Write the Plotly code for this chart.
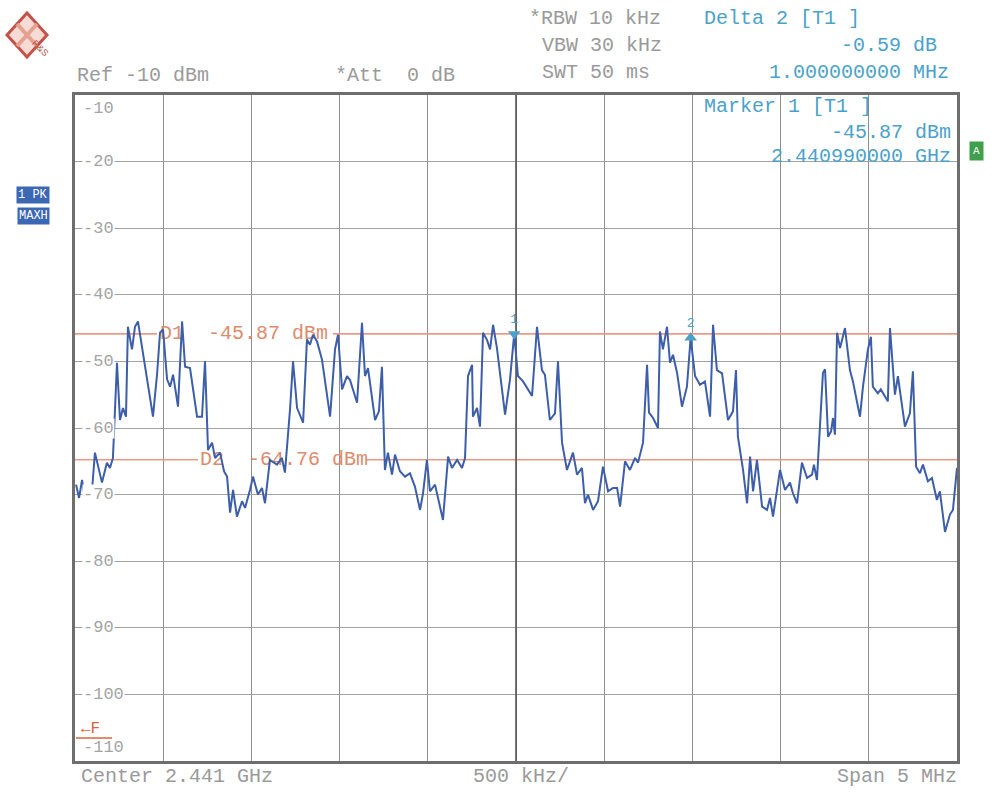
import plotly.graph_objects as go

# ---------------- data ----------------
START_MHZ = 2438.5          # left edge (center 2441 MHz, span 5 MHz)
SPAN_MHZ = 5.0
REF_LEVEL = -10
BOTTOM_LEVEL = -110

# frequency offset from left edge (MHz) and max-hold level (dBm)
freq_offset_mhz = [
    0.006, 0.023, 0.040, 0.057, 0.074, 0.091, 0.113, 0.136, 0.153, 0.181,
    0.198, 0.215, 0.238, 0.255, 0.272, 0.289, 0.300, 0.323, 0.340, 0.357,
    0.380, 0.408, 0.442, 0.465, 0.482, 0.499, 0.522, 0.539, 0.556, 0.584,
    0.607, 0.624, 0.652, 0.692, 0.720, 0.737, 0.754, 0.777, 0.794, 0.822,
    0.845, 0.862, 0.879, 0.896, 0.918, 0.947, 0.964, 0.992, 1.009, 1.037,
    1.060, 1.077, 1.105, 1.145, 1.173, 1.190, 1.219, 1.236, 1.259, 1.293,
    1.315, 1.332, 1.349, 1.372, 1.400, 1.446, 1.474, 1.491, 1.514, 1.542,
    1.559, 1.599, 1.627, 1.644, 1.661, 1.701, 1.723, 1.740, 1.757, 1.774,
    1.797, 1.814, 1.842, 1.871, 1.899, 1.927, 1.956, 1.973, 1.995, 2.012,
    2.041, 2.058, 2.086, 2.115, 2.137, 2.166, 2.194, 2.211, 2.228, 2.251,
    2.256, 2.279, 2.296, 2.313, 2.336, 2.353, 2.370, 2.392, 2.409, 2.438,
    2.466, 2.490, 2.511, 2.540, 2.568, 2.591, 2.619, 2.647, 2.664, 2.692,
    2.721, 2.738, 2.761, 2.789, 2.823, 2.846, 2.874, 2.891, 2.908, 2.937,
    2.965, 2.993, 3.022, 3.050, 3.073, 3.090, 3.118, 3.146, 3.175, 3.192,
    3.220, 3.243, 3.254, 3.277, 3.305, 3.316, 3.333, 3.356, 3.373, 3.390,
    3.413, 3.441, 3.469, 3.490, 3.515, 3.543, 3.571, 3.600, 3.617, 3.639,
    3.668, 3.702, 3.730, 3.747, 3.758, 3.787, 3.810, 3.827, 3.844, 3.866,
    3.895, 3.923, 3.940, 3.957, 3.997, 4.025, 4.053, 4.070, 4.093, 4.121,
    4.150, 4.178, 4.189, 4.206, 4.223, 4.240, 4.252, 4.269, 4.286, 4.297,
    4.308, 4.320, 4.337, 4.365, 4.393, 4.410, 4.450, 4.467, 4.495, 4.512,
    4.523, 4.551, 4.568, 4.608, 4.620, 4.648, 4.665, 4.705, 4.733, 4.750,
    4.768, 4.790, 4.807, 4.835, 4.858, 4.886, 4.903, 4.932, 4.960, 4.977,
    5.000,
]
level_dbm = [
    -68.5, -70.5, -67.8, -71.0, -69.0, -71.3, -63.7, -66.5, -68.2, -65.2,
    -66.0, -64.5, -50.2, -58.8, -57.0, -58.3, -44.8, -48.2, -44.8, -44.0,
    -47.8, -52.0, -58.3, -52.0, -45.7, -45.2, -52.7, -53.8, -52.0, -56.8,
    -44.0, -50.8, -51.0, -58.3, -58.3, -50.0, -63.3, -62.2, -64.5, -63.7,
    -66.5, -67.3, -72.7, -69.3, -73.3, -71.0, -72.0, -69.3, -67.3, -70.0,
    -69.0, -71.3, -64.8, -65.5, -64.5, -66.7, -57.2, -50.0, -57.0, -59.2,
    -46.7, -47.5, -46.0, -47.0, -49.7, -58.3, -48.2, -46.0, -54.2, -52.2,
    -52.8, -56.2, -44.2, -52.2, -51.0, -58.8, -57.5, -50.8, -66.3, -63.7,
    -67.0, -64.0, -66.5, -67.3, -66.8, -68.8, -72.3, -69.8, -64.8, -69.5,
    -68.5, -70.5, -73.8, -64.3, -66.0, -64.8, -66.0, -64.5, -52.2, -50.5,
    -58.3, -57.0, -59.8, -45.7, -46.8, -48.2, -44.5, -48.0, -51.7, -58.0,
    -52.7, -45.87, -52.2, -53.0, -54.2, -55.2, -44.8, -51.3, -52.0, -58.8,
    -57.8, -50.0, -62.2, -66.3, -63.7, -67.0, -66.0, -71.3, -70.0, -72.3,
    -71.0, -65.8, -69.5, -69.0, -69.0, -71.8, -65.0, -66.3, -64.5, -65.2,
    -62.2, -50.5, -57.7, -58.5, -60.0, -45.5, -48.2, -44.8, -50.2, -49.0,
    -51.7, -56.8, -53.8, -46.46, -52.2, -53.5, -53.0, -58.3, -44.5, -51.3,
    -51.8, -58.8, -57.5, -51.3, -61.3, -66.3, -71.3, -64.3, -69.5, -64.8,
    -71.8, -72.3, -70.5, -73.3, -66.3, -69.3, -68.2, -69.8, -71.3, -65.2,
    -67.5, -67.0, -65.5, -67.8, -59.8, -51.7, -51.2, -61.3, -60.5, -58.5,
    -61.0, -45.7, -48.0, -45.0, -51.3, -53.0, -58.3, -53.8, -48.2, -46.3,
    -53.8, -54.8, -54.2, -56.0, -45.0, -55.0, -52.2, -59.8, -57.8, -51.5,
    -65.8, -66.8, -65.5, -68.0, -67.5, -70.8, -69.5, -75.6, -73.0, -72.3,
    -66.0,
]

y_ticks = [-10, -20, -30, -40, -50, -60, -70, -80, -90, -100, -110]

marker_freq_mhz = [2440.99, 2441.99]
marker_level_dbm = [-45.87, -46.46]
marker_names = ["1", "2"]

display_lines = [("D1", -45.87), ("D2", -64.76)]

# ---------------- geometry helpers (pixel -> paper / data) ----------------
W, H = 992, 792
L, R, T, B = 75, 957, 95, 761
PW, PH = R - L, B - T


def px(xp):
    return (xp - L) / PW


def py(yp):
    return (B - yp) / PH


def mhz(xp):
    return START_MHZ + (xp - L) / PW * SPAN_MHZ


freq_mhz = [START_MHZ + f for f in freq_offset_mhz]

GRAY = "#9a9a9a"
TEAL = "#4aa2ca"
ORANGE_LINE = "#ec9a85"
ORANGE_TXT = "#dc8c6c"
BLUE = "#3d5ea8"
MONO = "Liberation Mono"

fig = go.Figure()

# display-line labels (drawn below the trace)
label_px = {"D1": (160, 157, 333), "D2": (200, 198, 366)}
for name, val in display_lines:
    lx, gap0, gap1 = label_px[name]
    fig.add_trace(go.Scatter(
        x=[mhz(lx)], y=[val], mode="text",
        text=[f"{name}  {val:.2f} dBm"], textposition="middle right",
        textfont=dict(family=MONO, size=20, color=ORANGE_TXT),
        hoverinfo="skip", showlegend=False))
    fig.add_shape(type="line", xref="x", yref="y", x0=START_MHZ, x1=mhz(gap0),
                  y0=val, y1=val, line=dict(color=ORANGE_LINE, width=1.6), layer="between")
    fig.add_shape(type="line", xref="x", yref="y", x0=mhz(gap1), x1=START_MHZ + SPAN_MHZ,
                  y0=val, y1=val, line=dict(color=ORANGE_LINE, width=1.6), layer="between")

# center line (darker)
fig.add_shape(type="line", xref="x", yref="y", x0=START_MHZ + SPAN_MHZ / 2,
              x1=START_MHZ + SPAN_MHZ / 2, y0=BOTTOM_LEVEL, y1=REF_LEVEL,
              line=dict(color="#555555", width=1.6), layer="between")

# trace
fig.add_trace(go.Scatter(
    x=freq_mhz, y=level_dbm, mode="lines",
    line=dict(color=BLUE, width=2), hoverinfo="skip", showlegend=False))

# markers
fig.add_trace(go.Scatter(
    x=marker_freq_mhz, y=marker_level_dbm, mode="markers+text",
    marker=dict(symbol=["triangle-down", "triangle-up"], size=11, color=TEAL),
    text=marker_names, textposition="top center",
    textfont=dict(family=MONO, size=13, color=TEAL),
    hoverinfo="skip", showlegend=False))

annotations = []

# y tick labels inside plot
for v in y_ticks:
    shift = 0
    if v == REF_LEVEL:
        shift = -13
    elif v == BOTTOM_LEVEL:
        shift = 14
    annotations.append(dict(
        x=px(82), xref="paper", y=v, yref="y", yshift=shift,
        text=str(v), showarrow=False, xanchor="left", yanchor="middle",
        font=dict(family=MONO, size=17, color="#a4a4a4"),
        bgcolor="white" if v not in (REF_LEVEL, BOTTOM_LEVEL) else "rgba(0,0,0,0)",
        borderpad=0))


def txt(s, xp, yp, color, anchor="left", size=20, **kw):
    annotations.append(dict(
        x=px(xp), xref="paper", y=py(yp), yref="paper", text=s, showarrow=False,
        xanchor=anchor, yanchor="middle",
        font=dict(family=MONO, size=size, color=color), **kw))


# header
txt("Ref -10 dBm", 75, 75, GRAY)
txt("*Att  0 dB", 333, 75, GRAY)
txt("*RBW 10 kHz", 527, 19, GRAY)
txt("VBW 30 kHz", 540, 46, GRAY)
txt("SWT 50 ms", 540, 73, GRAY)
txt("Delta 2 [T1 ]", 702, 19, TEAL)
txt("-0.59 dB", 939, 46, TEAL, anchor="right")
txt("1.000000000 MHz", 951, 73, TEAL, anchor="right")
txt("Marker 1 [T1 ]", 702, 106, TEAL)
txt("-45.87 dBm", 953, 132, TEAL, anchor="right")
txt("2.440990000 GHz", 953, 156, TEAL, anchor="right")

# footer
txt("Center 2.441 GHz", 79, 777, GRAY)
txt("500 kHz/", 471, 777, GRAY)
txt("Span 5 MHz", 959, 777, GRAY, anchor="right")

# side boxes
txt("1 PK", 33, 195, "white", anchor="center", size=12, bgcolor="#3c67b2", borderpad=1)
txt("MAXH", 33, 216, "white", anchor="center", size=12, bgcolor="#3c67b2", borderpad=1)
txt("A", 976, 151, "white", anchor="center", size=11, bgcolor="#3f9f4c", borderpad=3)

# F marker
txt("\u2190F", 79, 729, "#d9643f", size=16)

shapes = [
    dict(type="line", xref="paper", yref="paper", x0=px(76), x1=px(112),
         y0=py(738), y1=py(738), line=dict(color="#d9643f", width=1.5)),
    # R&S logo diamond
    dict(type="path", xref="paper", yref="paper",
         path=f"M {px(27)} {py(13)} L {px(47)} {py(35)} L {px(27)} {py(57)} L {px(7)} {py(35)} Z",
         fillcolor="#f6dcd4", line=dict(color="#c4524a", width=3)),
    dict(type="line", xref="paper", yref="paper", x0=px(17), x1=px(37),
         y0=py(24), y1=py(46), line=dict(color="#e6a090", width=4)),
    dict(type="line", xref="paper", yref="paper", x0=px(37), x1=px(17),
         y0=py(24), y1=py(46), line=dict(color="#e6a090", width=4)),
]
annotations.append(dict(x=px(27), xref="paper", y=py(35), yref="paper", text="R&S",
                        showarrow=False, textangle=45,
                        font=dict(family="Liberation Sans", size=9, color="#b04a42")))

fig.update_layout(
    width=W, height=H,
    margin=dict(l=L, r=W - R, t=T, b=H - B, pad=0),
    paper_bgcolor="white", plot_bgcolor="white",
    showlegend=False,
    annotations=annotations,
    xaxis=dict(range=[START_MHZ, START_MHZ + SPAN_MHZ], tick0=START_MHZ, dtick=SPAN_MHZ / 10,
               showticklabels=False, ticks="", showgrid=True, gridcolor="#8e8e8e", gridwidth=1.2,
               zeroline=False, showline=True, mirror=True, linecolor="#6e6e6e", linewidth=2.5),
    yaxis=dict(range=[BOTTOM_LEVEL, REF_LEVEL], tickvals=y_ticks,
               showticklabels=False, ticks="", showgrid=True, gridcolor="#a2a2a2", gridwidth=1.2,
               zeroline=False, showline=True, mirror=True, linecolor="#6e6e6e", linewidth=2.5),
)
for s in shapes:
    fig.add_shape(**s)

fig.write_html("out.html", config={"displayModeBar": False},
               post_script="document.body.style.margin='0';document.body.style.overflow='hidden';")
